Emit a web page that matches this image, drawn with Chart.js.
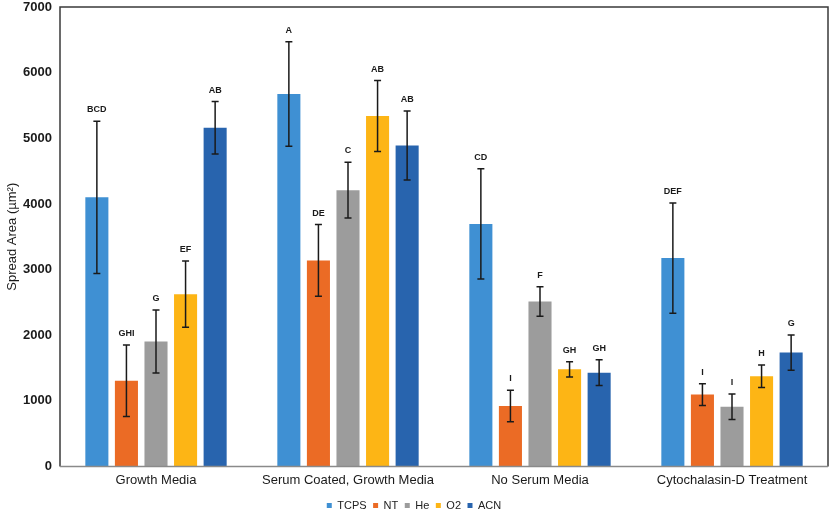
<!DOCTYPE html>
<html>
<head>
<meta charset="utf-8">
<script src="https://cdn.jsdelivr.net/npm/chart.js@4/dist/chart.umd.min.js"></script>
<style>
html,body{margin:0;padding:0;background:#fff;}
#wrap{width:831px;height:518px;position:relative;}
</style>
</head>
<body>
<div id="wrap"><canvas id="c" width="831" height="518"></canvas></div>
<script>
const categories = ["Growth Media", "Serum Coated, Growth Media", "No Serum Media", "Cytochalasin-D Treatment"];
const seriesNames = ["TCPS", "NT", "He", "O2", "ACN"];
const seriesColors = ["#3f90d3", "#eb6b25", "#9c9c9c", "#fdb515", "#2864ae"];

const tcps = [4100, 5675, 3695, 3175];
const nt   = [1305, 3140, 920, 1095];
const he   = [1905, 4210, 2515, 910];
const o2   = [2625, 5340, 1480, 1375];
const acn  = [5160, 4890, 1430, 1735];

const tcpsErr = [1160, 795, 840, 840];
const ntErr   = [545, 545, 240, 165];
const heErr   = [480, 425, 225, 195];
const o2Err   = [505, 540, 115, 170];
const acnErr  = [400, 525, 195, 270];

const tcpsLbl = ["BCD", "A", "CD", "DEF"];
const ntLbl   = ["GHI", "DE", "I", "I"];
const heLbl   = ["G", "C", "F", "I"];
const o2Lbl   = ["EF", "AB", "GH", "H"];
const acnLbl  = ["AB", "AB", "GH", "G"];

const yTicks = [0, 1000, 2000, 3000, 4000, 5000, 6000, 7000];

const values = [tcps, nt, he, o2, acn];
const errors = [tcpsErr, ntErr, heErr, o2Err, acnErr];
const letters = [tcpsLbl, ntLbl, heLbl, o2Lbl, acnLbl];

const datasets = seriesNames.map((n, i) => ({
  label: n,
  data: values[i],
  backgroundColor: seriesColors[i],
  borderWidth: 0,
  barPercentage: 0.78,
  categoryPercentage: 0.77,
  errs: errors[i],
  letters: letters[i]
}));

const errPlugin = {
  id: 'errbars',
  afterDatasetsDraw(chart) {
    const ctx = chart.ctx;
    const y = chart.scales.y;
    chart.data.datasets.forEach((ds, di) => {
      const meta = chart.getDatasetMeta(di);
      meta.data.forEach((bar, j) => {
        const v = ds.data[j], e = ds.errs[j];
        const yt = y.getPixelForValue(v + e);
        const yb = y.getPixelForValue(v - e);
        const x = bar.x;
        ctx.save();
        ctx.strokeStyle = '#1a1a1a';
        ctx.lineWidth = 1.5;
        ctx.beginPath();
        ctx.moveTo(x, yt); ctx.lineTo(x, yb);
        ctx.moveTo(x - 3.5, yt); ctx.lineTo(x + 3.5, yt);
        ctx.moveTo(x - 3.5, yb); ctx.lineTo(x + 3.5, yb);
        ctx.stroke();
        ctx.fillStyle = '#1a1a1a';
        ctx.font = 'bold 9px "Liberation Sans", Arial, sans-serif';
        ctx.textAlign = 'center';
        ctx.textBaseline = 'bottom';
        ctx.fillText(ds.letters[j], x, yt - 7);
        ctx.restore();
      });
    });
  }
};

const framePlugin = {
  id: 'frame',
  afterDraw(chart) {
    const a = chart.chartArea, ctx = chart.ctx;
    ctx.save();
    ctx.strokeStyle = '#3a3a3a';
    ctx.lineWidth = 1.5;
    ctx.beginPath();
    ctx.moveTo(a.left, a.bottom);
    ctx.lineTo(a.left, a.top);
    ctx.lineTo(a.right, a.top);
    ctx.lineTo(a.right, a.bottom);
    ctx.stroke();
    ctx.strokeStyle = '#8a8a8a';
    ctx.beginPath();
    ctx.moveTo(a.left, a.bottom);
    ctx.lineTo(a.right, a.bottom);
    ctx.stroke();
    ctx.restore();
  }
};

new Chart(document.getElementById('c'), {
  type: 'bar',
  data: { labels: categories, datasets },
  plugins: [errPlugin, framePlugin],
  options: {
    responsive: false,
    animation: false,
    layout: { padding: { top: 7, right: 3, left: 0, bottom: -3 } },
    plugins: {
      tooltip: { enabled: false },
      legend: {
        position: 'bottom',
        labels: {
          boxWidth: 5, boxHeight: 5, padding: 6.5,
          color: '#222',
          font: { size: 11, family: '"Liberation Sans", Arial, sans-serif' }
        }
      }
    },
    scales: {
      x: {
        grid: { display: false, drawTicks: false },
        border: { display: false },
        ticks: {
          color: '#1a1a1a', padding: 6, maxRotation: 0,
          font: { size: 13, family: '"Liberation Sans", Arial, sans-serif' }
        },
        afterFit(s) { s.height = 27; }
      },
      y: {
        min: 0, max: 7000,
        afterBuildTicks(s) { s.ticks = yTicks.map(v => ({ value: v })); },
        grid: { display: false, drawTicks: false },
        border: { display: false },
        ticks: {
          color: '#1a1a1a', padding: 8,
          callback: v => String(v),
          font: { size: 13, weight: 'bold', family: '"Liberation Sans", Arial, sans-serif' }
        },
        title: {
          display: true, text: 'Spread Area (µm²)', color: '#1a1a1a',
          padding: { top: 5, bottom: 0 },
          font: { size: 13, family: '"Liberation Sans", Arial, sans-serif' }
        },
        afterFit(s) { s.width = 60; s.paddingTop = 0; s.paddingBottom = 0; }
      }
    }
  }
});
</script>
</body>
</html>
